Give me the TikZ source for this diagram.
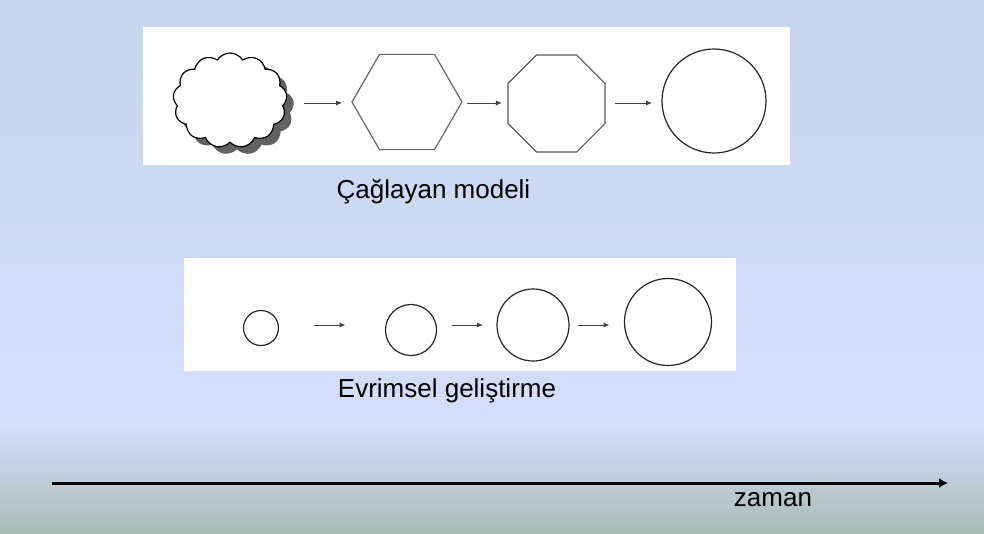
\documentclass[tikz,border=0pt]{standalone}
\usepackage{fontspec}
\setmainfont{Liberation Sans}
\usetikzlibrary{shapes.geometric}
\usetikzlibrary{shapes.symbols}
\usetikzlibrary{shadows}
\usetikzlibrary{arrows.meta}
\definecolor{bgtop}{HTML}{C6D6EE}
\definecolor{bgmid}{HTML}{D4DEFD}
\definecolor{bgbot}{HTML}{A9BCB6}
\tikzset{stage/.style={draw=#1, line width=1.2pt, inner sep=0pt, outer sep=0pt},
%default outline is black
stage/.default={black},
flow/.style={draw=black!75, line width=0.9pt, -{Latex[length=6pt,width=5pt]}},
caption/.style={anchor=base, font=\fontsize{26}{30}\selectfont}}

\begin{document}
\begin{tikzpicture}[x=1pt,y=-1pt]
% background
\useasboundingbox (0,0) rectangle (984,533);
\shade[top color=bgtop, bottom color=bgmid] (0,0) rectangle (984,425);
\shade[top color=bgmid, bottom color=bgbot] (0,425) rectangle (984,533);
\fill[white] (143,27) rectangle (790,165);
\fill[white] (184,258) rectangle (736,371);

% waterfall
\node[stage, cloud, cloud puffs=13, cloud puff arc=115, aspect=1.2,
  minimum width=114pt, minimum height=95pt, fill=white,
  drop shadow={shadow xshift=7pt, shadow yshift=-7pt, fill=black!62, opacity=1}] (idea) at (230,100.5) {};
\node[stage=black!60, regular polygon, regular polygon sides=6, minimum size=110pt] (hex) at (407,102) {};
\node[stage=black!65, regular polygon, regular polygon sides=8, minimum size=105pt] (oct) at (556.5,103.5) {};
\node[stage=black!85, circle, minimum size=104pt] (done) at (714,101) {};

\foreach \a/\b/\s/\t in {idea/hex/18/10, hex/oct/5/6, oct/done/10/10}
  \draw[flow, shorten <=\s pt, shorten >=\t pt] (\a.east |- 0,103) -- (\b.west |- 0,103);

\node[caption] (wfall) at (433.5,198) {Çağlayan modeli};

% evolutionary
\foreach \n/\x/\y/\d in {1/261/328/35, 2/411/330/51, 3/533/325/72, 4/668/322/87}
  \node[stage=black!85, circle, minimum size=\d pt] (e\n) at (\x,\y) {};

\foreach \a/\b/\s/\t in {1/2/35/40, 2/3/15/14, 3/4/9/15}
  \draw[flow, shorten <=\s pt, shorten >=\t pt] (e\a.east |- 0,325) -- (e\b.west |- 0,325);

\node[caption] (evo) at (447,397) {Evrimsel geliştirme};

% time axis
\coordinate (t0) at (52,483);
\coordinate (t1) at (948,483);
\draw[line width=3pt, -{Latex[length=9pt,width=10pt]}] (t0) -- (t1);
\node[caption] (time) at (773,506) {zaman};

\end{tikzpicture}
\end{document}
